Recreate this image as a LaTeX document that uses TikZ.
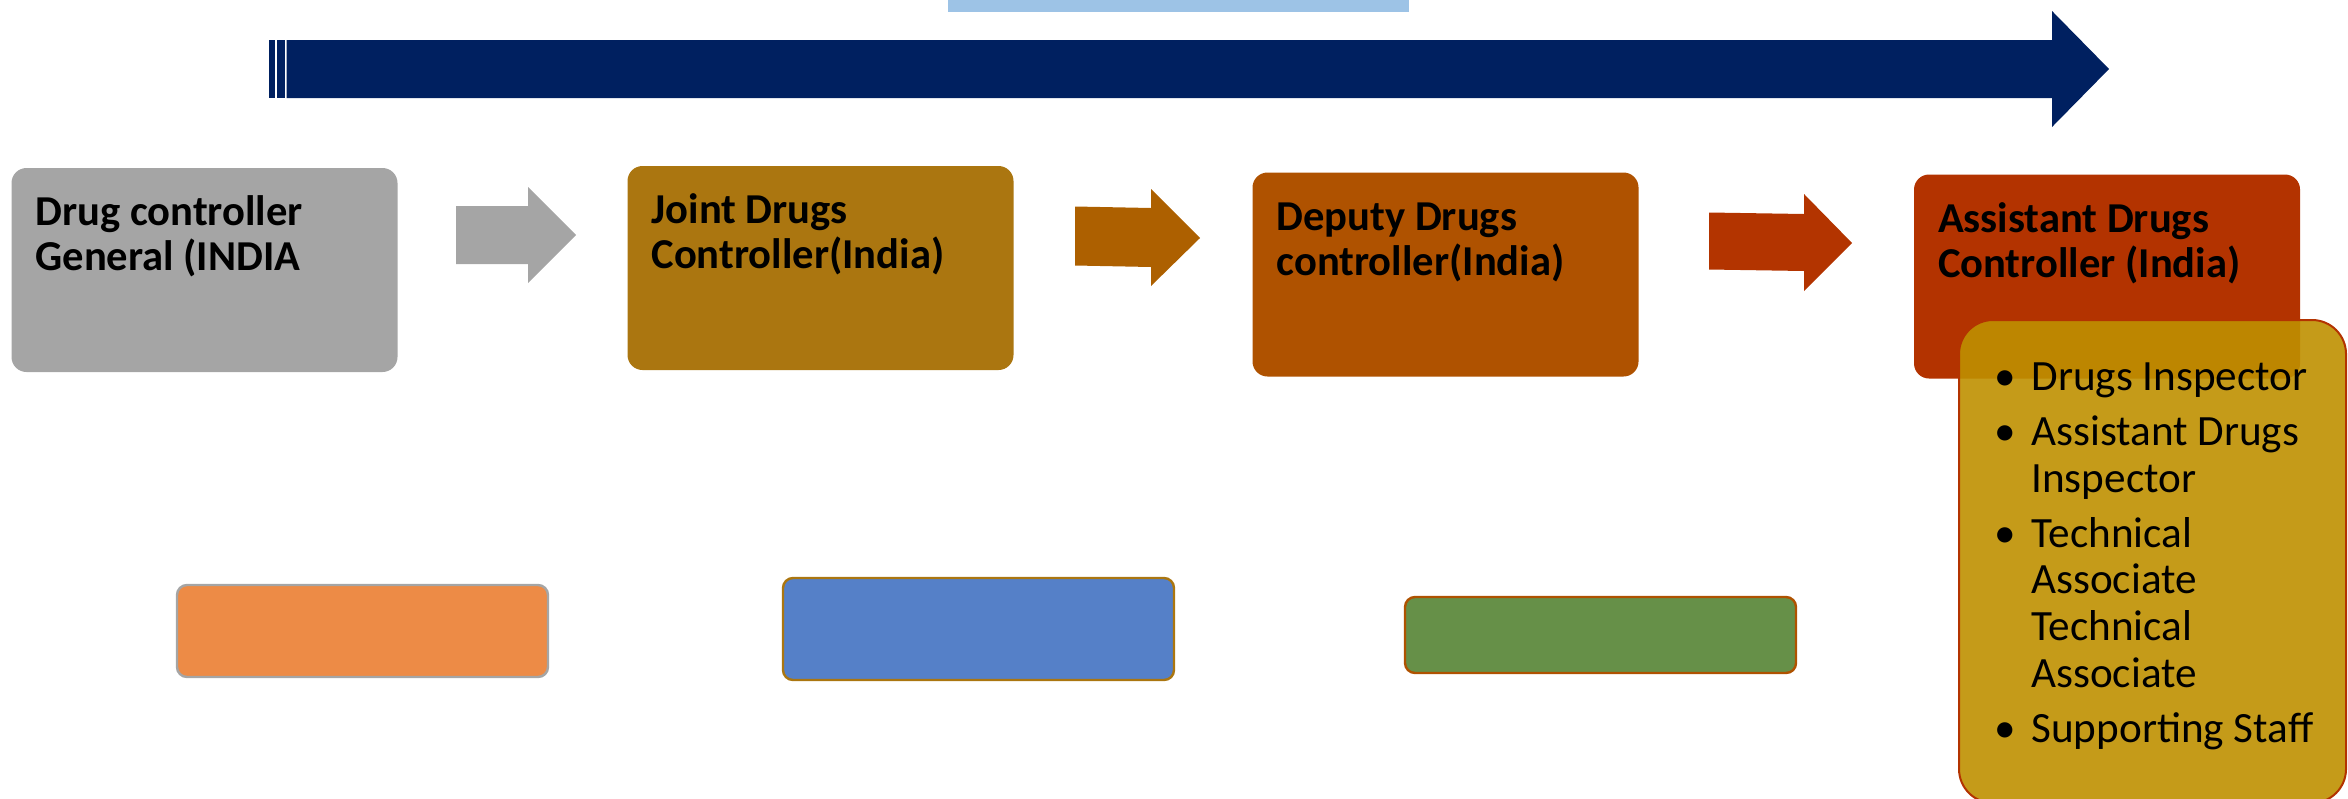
\documentclass[tikz,border=0pt]{standalone}
\usepackage{fontspec}
\setmainfont{Carlito}
\usetikzlibrary{calc}
\definecolor{navy}{HTML}{002060}
\definecolor{skyband}{HTML}{9DC3E6}
\definecolor{greybox}{HTML}{A5A5A5}
\definecolor{ochrebox}{HTML}{AB7610}
\definecolor{rustbox}{HTML}{AF5200}
\definecolor{redbox}{HTML}{B33300}
\definecolor{ochrearrow}{HTML}{AD6000}
\definecolor{redarrow}{HTML}{B33400}
\definecolor{goldbox}{HTML}{BF9000}
\definecolor{orangebox}{HTML}{ED8B46}
\definecolor{bluebox}{HTML}{5580C8}
\definecolor{greenbox}{HTML}{669048}
\tikzset{
  box/.style={rounded corners=7.5pt, inner sep=0pt, minimum width=193pt, minimum height=102pt},
  ttl/.style={anchor=base west, inner sep=0pt, font=\bfseries\fontsize{21.3}{25}\selectfont},
  bul/.style={anchor=base, inner sep=0pt, font=\fontsize{21.6}{25}\selectfont},
  itm/.style={anchor=base west, inner sep=0pt, font=\fontsize{21.6}{25}\selectfont},
  lowbox/.style={rounded corners=5pt, inner sep=0pt, line width=1.2pt, minimum width=185.5pt},
}
\begin{document}
\begin{tikzpicture}[x=0.5pt,y=-0.5pt]
\useasboundingbox (0,0) rectangle (2348,798);
% top band
\fill[skyband] (948,0) rectangle (1409,12);
% big striped arrow
\fill[navy] (269,40) rectangle (275,98);
\fill[navy] (276.5,40) rectangle (285,98);
\fill[navy] (286.5,40) -- (2052,40) -- (2052,11) -- (2109,69) -- (2052,127) -- (2052,98) -- (286.5,98) -- cycle;
% main boxes
\node[box, fill=greybox] (b1) at (204.5,270) {};
\node[box, fill=ochrebox] (b2) at (820.5,268) {};
\node[box, fill=rustbox] (b3) at (1445.5,274.5) {};
\node[box, fill=redbox] (b4) at (2107,276.5) {};
% titles
\node[ttl] (t1a) at ($(b1.north west)+(24,58)$) {Drug controller};
\node[ttl] (t1b) at ($(b1.north west)+(24,103)$) {General (INDIA};
\node[ttl] (t2a) at ($(b2.north west)+(24,58)$) {Joint Drugs};
\node[ttl] (t2b) at ($(b2.north west)+(24,103)$) {Controller(India)};
\node[ttl] (t3a) at ($(b3.north west)+(24,58)$) {Deputy Drugs};
\node[ttl] (t3b) at ($(b3.north west)+(24,103)$) {controller(India)};
\node[ttl] (t4a) at ($(b4.north west)+(24,58)$) {Assistant Drugs};
\node[ttl] (t4b) at ($(b4.north west)+(24,103)$) {Controller (India)};
% block arrows
\fill[greybox] (456,206) -- (528,206) -- (528,187) -- (576,235) -- (528,283) -- (528,264) -- (456,264) -- cycle;
\fill[ochrearrow] (1075,206.5) -- (1151,208) -- (1151,189) -- (1200,238) -- (1151,286) -- (1151,267) -- (1075,265.5) -- cycle;
\fill[redarrow] (1709,212.5) -- (1804,214) -- (1804,194) -- (1852,243) -- (1804,291) -- (1804,271) -- (1709,269.5) -- cycle;
% lower boxes
\node[lowbox, fill=orangebox, draw=greybox, minimum height=46pt] (o1) at (362.5,631) {};
\node[lowbox, fill=bluebox, draw=ochrebox, minimum height=51pt, minimum width=195.5pt] (o2) at (978.5,629) {};
\node[lowbox, fill=greenbox, draw=rustbox, minimum height=38pt, minimum width=195.5pt] (o3) at (1600.5,635) {};
% staff box (runs past the bottom edge)
\node[rounded corners=17pt, inner sep=0pt, fill=goldbox, fill opacity=0.9, draw=redbox, line width=1pt, minimum width=193.5pt, minimum height=241.5pt] (sb) at (2152.5,561.5) {};
% bullets
\node[bul] (d1) at (2005,390) {•};
\node[bul] (d2) at (2005,445) {•};
\node[bul] (d3) at (2005,547) {•};
\node[bul] (d4) at (2005,742) {•};
\node[itm] (l1) at (2031,390) {Drugs Inspector};
\node[itm] (l2) at (2031,445) {Assistant Drugs};
\node[itm] (l3) at (2031,492) {Inspector};
\node[itm] (l4) at (2031,547) {Technical};
\node[itm] (l5) at (2031,593) {Associate};
\node[itm] (l6) at (2031,640) {Technical};
\node[itm] (l7) at (2031,687) {Associate};
\node[itm] (l8) at (2031,742) {Supporting Staff};
\end{tikzpicture}
\end{document}
